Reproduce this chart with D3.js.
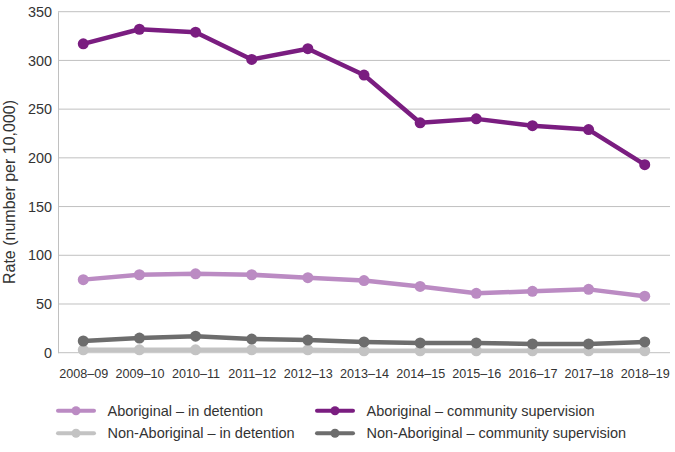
<!DOCTYPE html>
<html><head><meta charset="utf-8">
<script src="https://cdn.jsdelivr.net/npm/d3@7/dist/d3.min.js"></script>
<style>body{margin:0;background:#fff;} text{font-family:"Liberation Sans",Arial,sans-serif;}</style>
</head><body>
<svg id="c" width="675" height="452"></svg>
<script>
const years = ["2008–09","2009–10","2010–11","2011–12","2012–13","2013–14","2014–15","2015–16","2016–17","2017–18","2018–19"];
const aborigDetention = [75, 80, 81, 80, 77, 74, 68, 61, 63, 65, 58];
const aborigCommunity = [317, 332, 329, 301, 312, 285, 236, 240, 233, 229, 193];
const nonAborigDetention = [3, 3, 3, 3, 3, 2, 2, 2, 2, 2, 2];
const nonAborigCommunity = [12, 15, 17, 14, 13, 11, 10, 10, 9, 9, 11];
const yTicks = [0, 50, 100, 150, 200, 250, 300, 350];

const series = [
  {name:"Non-Aboriginal – in detention", values:nonAborigDetention, color:"#c3c3c3"},
  {name:"Non-Aboriginal – community supervision", values:nonAborigCommunity, color:"#6d6d6d"},
  {name:"Aboriginal – in detention", values:aborigDetention, color:"#bb8bc3"},
  {name:"Aboriginal – community supervision", values:aborigCommunity, color:"#7a1d80"}
];

const svg = d3.select("#c");
const L = 58, R = 670, T = 11.7, B = 352.7;
const x = d3.scalePoint().domain(years).range([L, R]).padding(0.45);
const y = d3.scaleLinear().domain([0, 350]).range([B, T]);

// gridlines
svg.append("g").selectAll("line").data(yTicks.filter(d=>d>0)).join("line")
  .attr("x1", L).attr("x2", R).attr("y1", d=>y(d)).attr("y2", d=>y(d))
  .attr("stroke", "#c0c0c0").attr("stroke-width", 1);

// axes
const ya = svg.append("g").attr("transform", `translate(${L},0)`)
  .call(d3.axisLeft(y).tickValues(yTicks).tickSize(0).tickPadding(6));
ya.select(".domain").attr("stroke", "#c0c0c0");
ya.selectAll("text").attr("font-size", 14.4).attr("fill", "#333").style("font-family","Liberation Sans, Arial, sans-serif");

const xa = svg.append("g").attr("transform", `translate(0,${B})`)
  .call(d3.axisBottom(x).tickSize(0).tickPadding(16));
xa.select(".domain").attr("stroke", "#c0c0c0").attr("d", `M${L},0H${R}`);
xa.selectAll("text").attr("font-size", 12.6).attr("fill", "#333").style("font-family","Liberation Sans, Arial, sans-serif");

svg.append("text").attr("transform", `translate(14.5,${192}) rotate(-90)`)
  .attr("text-anchor","middle").attr("font-size", 16).attr("fill", "#333")
  .text("Rate (number per 10,000)");

const line = d3.line().x((d,i)=>x(years[i])).y(d=>y(d));
series.forEach(s => {
  const g = svg.append("g");
  g.append("path").datum(s.values).attr("d", line).attr("fill","none")
    .attr("stroke", s.color).attr("stroke-width", 4.5).attr("stroke-linejoin","round");
  g.selectAll("circle").data(s.values).join("circle")
    .attr("cx", (d,i)=>x(years[i])).attr("cy", d=>y(d)).attr("r", 5.5).attr("fill", s.color);
});

// legend
const legend = [
  {s:series[2], lx:58, ly:410.7},
  {s:series[3], lx:317, ly:410.7},
  {s:series[0], lx:58, ly:433.3},
  {s:series[1], lx:317, ly:433.3}
];
legend.forEach(l => {
  const g = svg.append("g");
  g.append("line").attr("x1", l.lx).attr("x2", l.lx+36).attr("y1", l.ly).attr("y2", l.ly)
    .attr("stroke", l.s.color).attr("stroke-width", 4).attr("stroke-linecap","round");
  g.append("circle").attr("cx", l.lx+18).attr("cy", l.ly).attr("r", 4.5).attr("fill", l.s.color);
  g.append("text").attr("x", l.lx+49.5).attr("y", l.ly+5).attr("font-size", 14.5).attr("fill", "#333").text(l.s.name);
});
</script>
</body></html>
